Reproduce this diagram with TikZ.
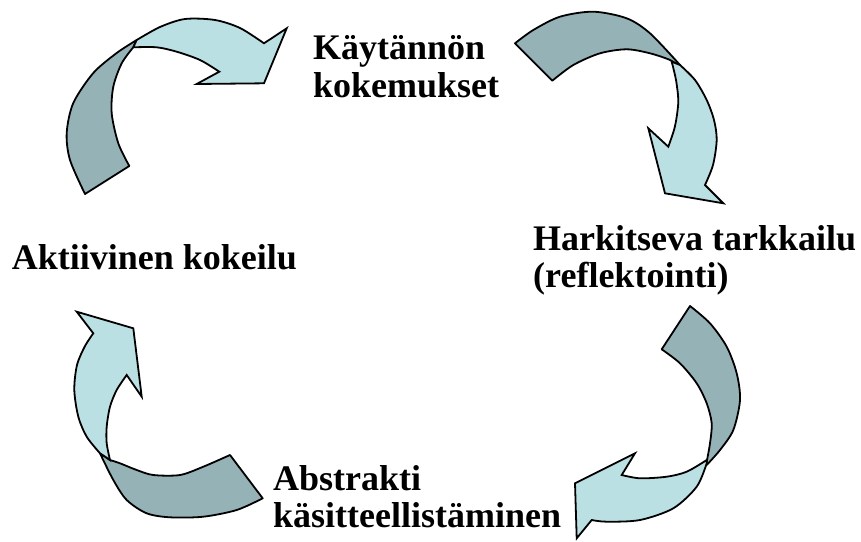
\documentclass[tikz,border=0pt]{standalone}
\usepackage{fontspec}
\setmainfont{Liberation Serif}
\definecolor{darkpart}{HTML}{95B3B7}
\definecolor{lightpart}{HTML}{BBE0E3}
\tikzset{
  darkarrow/.style={fill=darkpart, draw=black, line width=1.8pt, line join=round},
  lightarrow/.style={fill=lightpart, draw=black, line width=1.8pt, line join=miter},
  label/.style={inner sep=0pt, anchor=base west, align=left,
    font=\fontsize{36}{37.5}\selectfont\bfseries}
}
\begin{document}
\begin{tikzpicture}[x=1pt,y=-1pt]
\useasboundingbox (0,0) rectangle (861,541);
% ---------- arrow 1 (top left) ----------
\path[darkarrow] (85,194) -- plot[smooth] coordinates {(85,194) (70,160) (66.7,133) (73.3,103) (93.3,73) (116.7,53) (136.7,40)}
  -- plot[smooth] coordinates {(133.3,47.3) (121.7,63.3) (113.3,86.7) (111.7,113.3) (118.3,143.3) (129.3,166)} -- cycle;
\path[lightarrow] (136.7,40) -- plot[smooth] coordinates {(136.7,40) (160,27) (185,19) (215,20) (240,28) (264,43.3)}
  -- (286.7,28.3) -- (264,83.3) -- (196.7,84) -- (219.3,71.7)
  -- plot[smooth] coordinates {(219.3,71.7) (200,60) (176.7,51.7) (156.7,47.3) (133.3,47.3)} -- cycle;
% ---------- arrow 2 (top right) ----------
\path[darkarrow] (515,43.3) -- plot[smooth] coordinates {(515,43.3) (533.3,30) (560,16.7) (593.3,11.7) (626.7,18.3) (650,33.3) (680,65)}
  -- plot[smooth] coordinates {(680,66.7) (670,60) (650,53.3) (626.7,49.3) (600,53.3) (573.3,65) (552.3,80.7)} -- cycle;
\path[lightarrow] (680,65) -- plot[smooth] coordinates {(680,65) (695,80) (706.7,100) (714,120) (716.7,140) (713,165) (705,185)}
  -- (723.3,203.3) -- (665,193.3) -- (648.3,128.3) -- (668.3,146.7)
  -- plot[smooth] coordinates {(668.3,146.7) (674,130) (676.7,116.7) (678.3,100) (676,80) (671.7,61.7)} -- cycle;
% ---------- arrow 3 (bottom right) ----------
\path[darkarrow] (690,306) -- plot[smooth] coordinates {(690,306) (710,323.3) (726.7,346.7) (736.7,373.3) (740,400) (733.3,430) (720,450) (706.7,465)}
  -- plot[smooth] coordinates {(706.7,461.7) (710,443.3) (711.7,423.3) (706.7,403.3) (696.7,383.3) (680,363.3) (661.7,349.3)} -- cycle;
\path[lightarrow] (706.7,463.3) -- plot[smooth] coordinates {(706.7,463.3) (696.7,486.7) (673.3,508.3) (640,520) (606.7,521.7) (591.7,520)}
  -- (576.7,538.3) -- (575,483.3) -- (635,453.3) -- (621.7,475)
  -- plot[smooth] coordinates {(621.7,475) (640,478.3) (666.7,476.7) (686.7,471.7) (706.7,460)} -- cycle;
% ---------- arrow 4 (bottom left) ----------
\path[darkarrow] (230,455) -- (262.7,498.3) -- plot[smooth] coordinates {(262.7,498.3) (236.7,510) (203.3,516.7) (170,517.3) (146.7,513.3) (126.7,500) (113.3,480) (100,453.3)}
  -- plot[smooth] coordinates {(110,460) (120,463.3) (136.7,470) (153.3,475) (180,475) (203.3,466.7) (230,455)} -- cycle;
\path[lightarrow] (100,453.3) -- plot[smooth] coordinates {(100,453.3) (86.7,436.7) (78.3,416.7) (74.3,390) (77,365) (85,346) (93.3,333.3)}
  -- (76.7,311.7) -- (133.3,328.3) -- (141.7,396.7) -- (126.7,375)
  -- plot[smooth] coordinates {(126.7,375) (116.7,390) (110,406.7) (106.7,426.7) (106.7,443.3) (110,460)} -- cycle;
% ---------- labels (base = last line's baseline) ----------
\node[label] (exp) at (313,97.3) {Käytännön\\kokemukset};
\node[label] (refl) at (533,287.7) {Harkitseva tarkkailu\\(reflektointi)};
\node[label] (abs) at (273,527.7) {Abstrakti\\käsitteellistäminen};
\node[label] (act) at (11.7,269.3) {Aktiivinen kokeilu};
\end{tikzpicture}
\end{document}
